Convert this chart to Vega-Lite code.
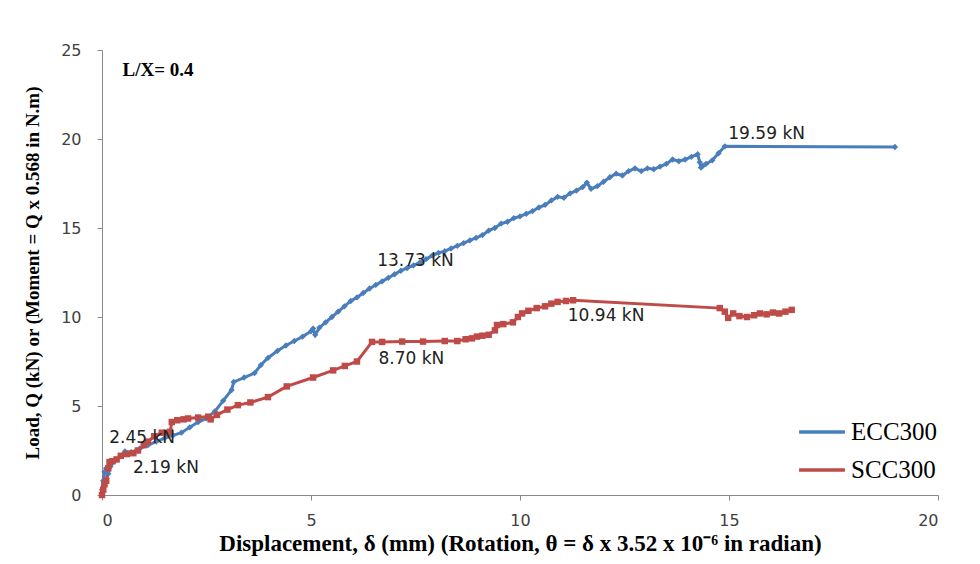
{
  "$schema": "https://vega.github.io/schema/vega-lite/v6.json",
  "width": 836,
  "height": 445,
  "autosize": {"type": "none"},
  "padding": {"left": 102, "top": 50, "right": 42, "bottom": 69},
  "background": "white",
  "config": {"view": {"stroke": null}},
  "datasets": {
    "curves": [
      {"s": "ECC300", "d": 0, "q": 0.3},
      {"s": "ECC300", "d": 0.03, "q": 0.8},
      {"s": "ECC300", "d": 0.06, "q": 1.3},
      {"s": "ECC300", "d": 0.1, "q": 1.5},
      {"s": "ECC300", "d": 0.15, "q": 1.2},
      {"s": "ECC300", "d": 0.2, "q": 1.6},
      {"s": "ECC300", "d": 0.3, "q": 1.9},
      {"s": "ECC300", "d": 0.45, "q": 2.2},
      {"s": "ECC300", "d": 0.55, "q": 2.45},
      {"s": "ECC300", "d": 0.7, "q": 2.4},
      {"s": "ECC300", "d": 0.9, "q": 2.6},
      {"s": "ECC300", "d": 1.1, "q": 2.8},
      {"s": "ECC300", "d": 1.3, "q": 3.0},
      {"s": "ECC300", "d": 1.5, "q": 3.2},
      {"s": "ECC300", "d": 1.7, "q": 3.35},
      {"s": "ECC300", "d": 1.9, "q": 3.5},
      {"s": "ECC300", "d": 2.1, "q": 3.8},
      {"s": "ECC300", "d": 2.3, "q": 4.1},
      {"s": "ECC300", "d": 2.5, "q": 4.3},
      {"s": "ECC300", "d": 2.7, "q": 4.7},
      {"s": "ECC300", "d": 2.9, "q": 5.3},
      {"s": "ECC300", "d": 3.1, "q": 5.9},
      {"s": "ECC300", "d": 3.15, "q": 6.35},
      {"s": "ECC300", "d": 3.4, "q": 6.6},
      {"s": "ECC300", "d": 3.65, "q": 6.85},
      {"s": "ECC300", "d": 3.8, "q": 7.3},
      {"s": "ECC300", "d": 3.97, "q": 7.7},
      {"s": "ECC300", "d": 4.2, "q": 8.1},
      {"s": "ECC300", "d": 4.4, "q": 8.4},
      {"s": "ECC300", "d": 4.6, "q": 8.65},
      {"s": "ECC300", "d": 4.8, "q": 8.9},
      {"s": "ECC300", "d": 5.0, "q": 9.2},
      {"s": "ECC300", "d": 5.05, "q": 9.35},
      {"s": "ECC300", "d": 5.1, "q": 9.0},
      {"s": "ECC300", "d": 5.2, "q": 9.4},
      {"s": "ECC300", "d": 5.35, "q": 9.7},
      {"s": "ECC300", "d": 5.5, "q": 10.0},
      {"s": "ECC300", "d": 5.65, "q": 10.3},
      {"s": "ECC300", "d": 5.8, "q": 10.6},
      {"s": "ECC300", "d": 5.95, "q": 10.9},
      {"s": "ECC300", "d": 6.1, "q": 11.1},
      {"s": "ECC300", "d": 6.25, "q": 11.35},
      {"s": "ECC300", "d": 6.4, "q": 11.6},
      {"s": "ECC300", "d": 6.55, "q": 11.8},
      {"s": "ECC300", "d": 6.7, "q": 12.0},
      {"s": "ECC300", "d": 6.85, "q": 12.2},
      {"s": "ECC300", "d": 7.0, "q": 12.4},
      {"s": "ECC300", "d": 7.15, "q": 12.6},
      {"s": "ECC300", "d": 7.3, "q": 12.75},
      {"s": "ECC300", "d": 7.45, "q": 12.9},
      {"s": "ECC300", "d": 7.6, "q": 13.05},
      {"s": "ECC300", "d": 7.75, "q": 13.25},
      {"s": "ECC300", "d": 7.9, "q": 13.45},
      {"s": "ECC300", "d": 8.05, "q": 13.6},
      {"s": "ECC300", "d": 8.2, "q": 13.7},
      {"s": "ECC300", "d": 8.35, "q": 13.85},
      {"s": "ECC300", "d": 8.5, "q": 14.0},
      {"s": "ECC300", "d": 8.65, "q": 14.15},
      {"s": "ECC300", "d": 8.8, "q": 14.3},
      {"s": "ECC300", "d": 8.95, "q": 14.45},
      {"s": "ECC300", "d": 9.1, "q": 14.6},
      {"s": "ECC300", "d": 9.25, "q": 14.85},
      {"s": "ECC300", "d": 9.4, "q": 15.0},
      {"s": "ECC300", "d": 9.55, "q": 15.25},
      {"s": "ECC300", "d": 9.7, "q": 15.35},
      {"s": "ECC300", "d": 9.85, "q": 15.55},
      {"s": "ECC300", "d": 10.0, "q": 15.65},
      {"s": "ECC300", "d": 10.15, "q": 15.8},
      {"s": "ECC300", "d": 10.3, "q": 15.95},
      {"s": "ECC300", "d": 10.45, "q": 16.15},
      {"s": "ECC300", "d": 10.6, "q": 16.3},
      {"s": "ECC300", "d": 10.75, "q": 16.55},
      {"s": "ECC300", "d": 10.9, "q": 16.75},
      {"s": "ECC300", "d": 11.05, "q": 16.7},
      {"s": "ECC300", "d": 11.2, "q": 16.95},
      {"s": "ECC300", "d": 11.35, "q": 17.1},
      {"s": "ECC300", "d": 11.5, "q": 17.3},
      {"s": "ECC300", "d": 11.6, "q": 17.55},
      {"s": "ECC300", "d": 11.7, "q": 17.2},
      {"s": "ECC300", "d": 11.85, "q": 17.35},
      {"s": "ECC300", "d": 12.0, "q": 17.6},
      {"s": "ECC300", "d": 12.15, "q": 17.85},
      {"s": "ECC300", "d": 12.3, "q": 18.05},
      {"s": "ECC300", "d": 12.45, "q": 17.95},
      {"s": "ECC300", "d": 12.6, "q": 18.2},
      {"s": "ECC300", "d": 12.75, "q": 18.35},
      {"s": "ECC300", "d": 12.9, "q": 18.2},
      {"s": "ECC300", "d": 13.05, "q": 18.35},
      {"s": "ECC300", "d": 13.2, "q": 18.3},
      {"s": "ECC300", "d": 13.35, "q": 18.45},
      {"s": "ECC300", "d": 13.5, "q": 18.6},
      {"s": "ECC300", "d": 13.65, "q": 18.85},
      {"s": "ECC300", "d": 13.8, "q": 18.75},
      {"s": "ECC300", "d": 13.95, "q": 18.85},
      {"s": "ECC300", "d": 14.1, "q": 19.0},
      {"s": "ECC300", "d": 14.25, "q": 19.15},
      {"s": "ECC300", "d": 14.3, "q": 18.7},
      {"s": "ECC300", "d": 14.33, "q": 18.4},
      {"s": "ECC300", "d": 14.38, "q": 18.5},
      {"s": "ECC300", "d": 14.45, "q": 18.6},
      {"s": "ECC300", "d": 14.6, "q": 18.8},
      {"s": "ECC300", "d": 14.75, "q": 19.2},
      {"s": "ECC300", "d": 14.9, "q": 19.59},
      {"s": "ECC300", "d": 18.97, "q": 19.55},
      {"s": "SCC300", "d": 0, "q": 0},
      {"s": "SCC300", "d": 0.03, "q": 0.3},
      {"s": "SCC300", "d": 0.06, "q": 0.6},
      {"s": "SCC300", "d": 0.1, "q": 0.8},
      {"s": "SCC300", "d": 0.15, "q": 1.5},
      {"s": "SCC300", "d": 0.18, "q": 1.85},
      {"s": "SCC300", "d": 0.25, "q": 1.9},
      {"s": "SCC300", "d": 0.35, "q": 2.0},
      {"s": "SCC300", "d": 0.45, "q": 2.2},
      {"s": "SCC300", "d": 0.6, "q": 2.3},
      {"s": "SCC300", "d": 0.75, "q": 2.35},
      {"s": "SCC300", "d": 0.86, "q": 2.5},
      {"s": "SCC300", "d": 1.0, "q": 2.8},
      {"s": "SCC300", "d": 1.1, "q": 3.0},
      {"s": "SCC300", "d": 1.25, "q": 3.3},
      {"s": "SCC300", "d": 1.43, "q": 3.5},
      {"s": "SCC300", "d": 1.55, "q": 3.5},
      {"s": "SCC300", "d": 1.63, "q": 3.55},
      {"s": "SCC300", "d": 1.67, "q": 4.1},
      {"s": "SCC300", "d": 1.8, "q": 4.2},
      {"s": "SCC300", "d": 1.95, "q": 4.25},
      {"s": "SCC300", "d": 2.06, "q": 4.3},
      {"s": "SCC300", "d": 2.3, "q": 4.35},
      {"s": "SCC300", "d": 2.54, "q": 4.4},
      {"s": "SCC300", "d": 2.6, "q": 4.25},
      {"s": "SCC300", "d": 2.75, "q": 4.5},
      {"s": "SCC300", "d": 3.0, "q": 4.8},
      {"s": "SCC300", "d": 3.25, "q": 5.05},
      {"s": "SCC300", "d": 3.55, "q": 5.2},
      {"s": "SCC300", "d": 3.97, "q": 5.5},
      {"s": "SCC300", "d": 4.42, "q": 6.1},
      {"s": "SCC300", "d": 5.05, "q": 6.6},
      {"s": "SCC300", "d": 5.53, "q": 7.0},
      {"s": "SCC300", "d": 5.81, "q": 7.25},
      {"s": "SCC300", "d": 6.1, "q": 7.5},
      {"s": "SCC300", "d": 6.46, "q": 8.6},
      {"s": "SCC300", "d": 6.7, "q": 8.6},
      {"s": "SCC300", "d": 7.18, "q": 8.62},
      {"s": "SCC300", "d": 7.68, "q": 8.62},
      {"s": "SCC300", "d": 8.2, "q": 8.65},
      {"s": "SCC300", "d": 8.5, "q": 8.65},
      {"s": "SCC300", "d": 8.7, "q": 8.75},
      {"s": "SCC300", "d": 8.85, "q": 8.8},
      {"s": "SCC300", "d": 8.97, "q": 8.9},
      {"s": "SCC300", "d": 9.1, "q": 8.95},
      {"s": "SCC300", "d": 9.25, "q": 9.0},
      {"s": "SCC300", "d": 9.4, "q": 9.25},
      {"s": "SCC300", "d": 9.45, "q": 9.55},
      {"s": "SCC300", "d": 9.6, "q": 9.6},
      {"s": "SCC300", "d": 9.83, "q": 9.7},
      {"s": "SCC300", "d": 9.95, "q": 10.0},
      {"s": "SCC300", "d": 10.05, "q": 10.2},
      {"s": "SCC300", "d": 10.2, "q": 10.35},
      {"s": "SCC300", "d": 10.4, "q": 10.5},
      {"s": "SCC300", "d": 10.6, "q": 10.6},
      {"s": "SCC300", "d": 10.75, "q": 10.75},
      {"s": "SCC300", "d": 10.9, "q": 10.85},
      {"s": "SCC300", "d": 11.1, "q": 10.9},
      {"s": "SCC300", "d": 11.27, "q": 10.94},
      {"s": "SCC300", "d": 14.78, "q": 10.5},
      {"s": "SCC300", "d": 14.9, "q": 10.3},
      {"s": "SCC300", "d": 14.98, "q": 9.95},
      {"s": "SCC300", "d": 15.1, "q": 10.2},
      {"s": "SCC300", "d": 15.25, "q": 10.05},
      {"s": "SCC300", "d": 15.43, "q": 10.0},
      {"s": "SCC300", "d": 15.6, "q": 10.1},
      {"s": "SCC300", "d": 15.74, "q": 10.2},
      {"s": "SCC300", "d": 15.9, "q": 10.15},
      {"s": "SCC300", "d": 16.05, "q": 10.25},
      {"s": "SCC300", "d": 16.2, "q": 10.2},
      {"s": "SCC300", "d": 16.35, "q": 10.3},
      {"s": "SCC300", "d": 16.5, "q": 10.4}
    ],
    "labels": [
      {"d": 0.96, "q": 3.2, "t": "2.45 kN"},
      {"d": 1.53, "q": 1.5, "t": "2.19 kN"},
      {"d": 7.5, "q": 13.15, "t": "13.73 kN"},
      {"d": 7.4, "q": 7.65, "t": "8.70 kN"},
      {"d": 12.06, "q": 10.05, "t": "10.94 kN"},
      {"d": 15.9, "q": 20.3, "t": "19.59 kN"}
    ],
    "note": [
      {"d": 1.34, "q": 23.9, "t": "L/X= 0.4"}
    ]
  },
  "layer": [
    {
      "data": {"name": "curves"},
      "mark": {"type": "line", "strokeWidth": 3},
      "encoding": {
        "x": {
          "field": "d", "type": "quantitative",
          "scale": {"domain": [0, 20], "nice": false, "zero": true},
          "axis": {
            "values": [0, 5, 10, 15, 20], "grid": false,
            "title": "Displacement, δ (mm) (Rotation, θ = δ x 3.52 x 10⁻⁶ in radian)",
            "titleFont": "Liberation Serif", "titleFontWeight": "bold", "titleFontSize": 23, "titleColor": "#000000", "titlePadding": 4,
            "labelFont": "DejaVu Sans", "labelFontSize": 16, "labelColor": "#404040", "labelPadding": 12,
            "domainColor": "#8a8a8a", "tickColor": "#8a8a8a", "tickSize": 5
          }
        },
        "y": {
          "field": "q", "type": "quantitative",
          "scale": {"domain": [0, 25], "nice": false},
          "axis": {
            "values": [0, 5, 10, 15, 20, 25], "grid": false,
            "title": "Load, Q (kN) or  (Moment = Q x 0.568 in N.m)",
            "titleFont": "Liberation Serif", "titleFontWeight": "bold", "titleFontSize": 19, "titleColor": "#000000", "titlePadding": 18,
            "labelFont": "DejaVu Sans", "labelFontSize": 16, "labelColor": "#404040", "labelPadding": 16,
            "domainColor": "#8a8a8a", "tickColor": "#8a8a8a", "tickSize": 5
          }
        },
        "color": {
          "field": "s", "type": "nominal",
          "scale": {"domain": ["ECC300", "SCC300"], "range": ["#4a7ebb", "#be4b48"]},
          "legend": {
            "title": null, "orient": "none", "legendX": 695, "legendY": 357,
            "symbolType": "stroke", "symbolSize": 2100, "symbolStrokeWidth": 3.5,
            "labelFont": "Liberation Serif", "labelFontSize": 25, "labelColor": "#000000",
            "rowPadding": -16, "labelOffset": 4
          }
        }
      }
    },
    {
      "data": {"name": "curves"},
      "transform": [{"filter": "datum.s == 'ECC300'"}],
      "mark": {"type": "point", "shape": "diamond", "filled": true, "size": 40, "color": "#4a7ebb", "opacity": 1},
      "encoding": {
        "x": {"field": "d", "type": "quantitative"},
        "y": {"field": "q", "type": "quantitative"}
      }
    },
    {
      "data": {"name": "curves"},
      "transform": [{"filter": "datum.s == 'SCC300'"}],
      "mark": {"type": "point", "shape": "square", "filled": true, "size": 42, "color": "#be4b48", "opacity": 1},
      "encoding": {
        "x": {"field": "d", "type": "quantitative"},
        "y": {"field": "q", "type": "quantitative"}
      }
    },
    {
      "data": {"name": "labels"},
      "mark": {"type": "text", "font": "DejaVu Sans", "fontSize": 17, "color": "#222222", "align": "center", "baseline": "middle"},
      "encoding": {
        "x": {"field": "d", "type": "quantitative"},
        "y": {"field": "q", "type": "quantitative"},
        "text": {"field": "t", "type": "nominal"}
      }
    },
    {
      "data": {"name": "note"},
      "mark": {"type": "text", "font": "Liberation Serif", "fontWeight": "bold", "fontSize": 19, "color": "#000000", "align": "center", "baseline": "middle"},
      "encoding": {
        "x": {"field": "d", "type": "quantitative"},
        "y": {"field": "q", "type": "quantitative"},
        "text": {"field": "t", "type": "nominal"}
      }
    }
  ]
}
